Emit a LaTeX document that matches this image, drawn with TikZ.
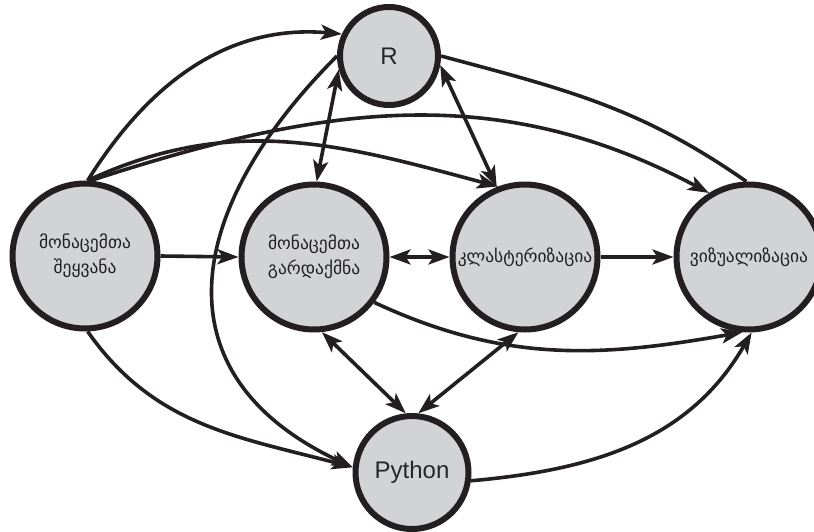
\documentclass[tikz,border=0pt]{standalone}
\usepackage{fontspec}
\setmainfont{Liberation Sans}
\newfontfamily\geo{DejaVu Sans}
\usetikzlibrary{arrows.meta}
\pgfdeclarelayer{bg}
\pgfsetlayers{bg,main}
\definecolor{stagefill}{HTML}{D1D3D4}
\definecolor{ink}{HTML}{231F20}
\tikzset{every picture/.append style={x=1pt, y=1pt}}
\tikzset{
    stage/.style={circle, fill=stagefill, draw=ink, line width=6pt,
    	minimum size=145pt, inner sep=0pt, align=center, text=ink,
    	font=\geo\fontsize{17.5}{25}\selectfont},
    tool/.style={stage, text=black!85, font=\fontsize{24}{28}\selectfont},
    link/.style={draw=ink, line width=3.6pt,
    	>={Stealth[length=21pt, width=15pt, inset=5pt]}}
}

\begin{document}
\begin{tikzpicture}
  \useasboundingbox (0,0) rectangle (814,531);
  \node (inp) [stage] at (85, 275) {მონაცემთა\\შეყვანა};
  \node (tr) [stage] at (314, 274) {მონაცემთა\\გარდაქმნა};
  \node (cl) [stage] at (525, 274) {კლასტერიზაცია};
  \node (vis) [stage] at (749, 274) {ვიზუალიზაცია};
  \node (r) [tool, minimum size=98pt] at (389, 475) {R};
  \node (py) [tool, minimum size=113pt] at (412, 58.5) {Python};

  \begin{pgfonlayer}{bg}
	  \draw[link, ->] (inp.88) to[out=58, in=175] (r.155);
	  \draw[link, ->] (inp.88) to[out=25, in=165] (cl.111);
	  \draw[link, ->] (inp.86) to[out=18, in=152] (vis.122);
	  \draw[link, ->] (inp.east) -- (tr.west);
	  \draw[link, ->] (inp.-88) to[out=-55, in=165] (py.175);
	  \draw[link, ->] (r.180) to[out=225, in=155, looseness=1.35] (py.175);
	  \draw[link, <->] (r.195) -- (tr.88); \draw[link, <->] (r.-10) -- (cl.112);
	  \draw[link] (r.0) to[out=-15, in=145] (vis.92);
	  \draw[link, <->] (tr.east) -- (cl.west); \draw[link, ->] (cl.east) -- (vis.west);
	  \draw[link, ->] (tr.-37) to[out=-25, in=190] (vis.-95);
	  \draw[link, ->] (py.-8) to[out=5, in=-120] (vis.-88);
	  \draw[link, <->] (tr.-84) -- (py.96); \draw[link, <->] (cl.-95) -- (py.84);
  \end{pgfonlayer}

\end{tikzpicture}
\end{document}
